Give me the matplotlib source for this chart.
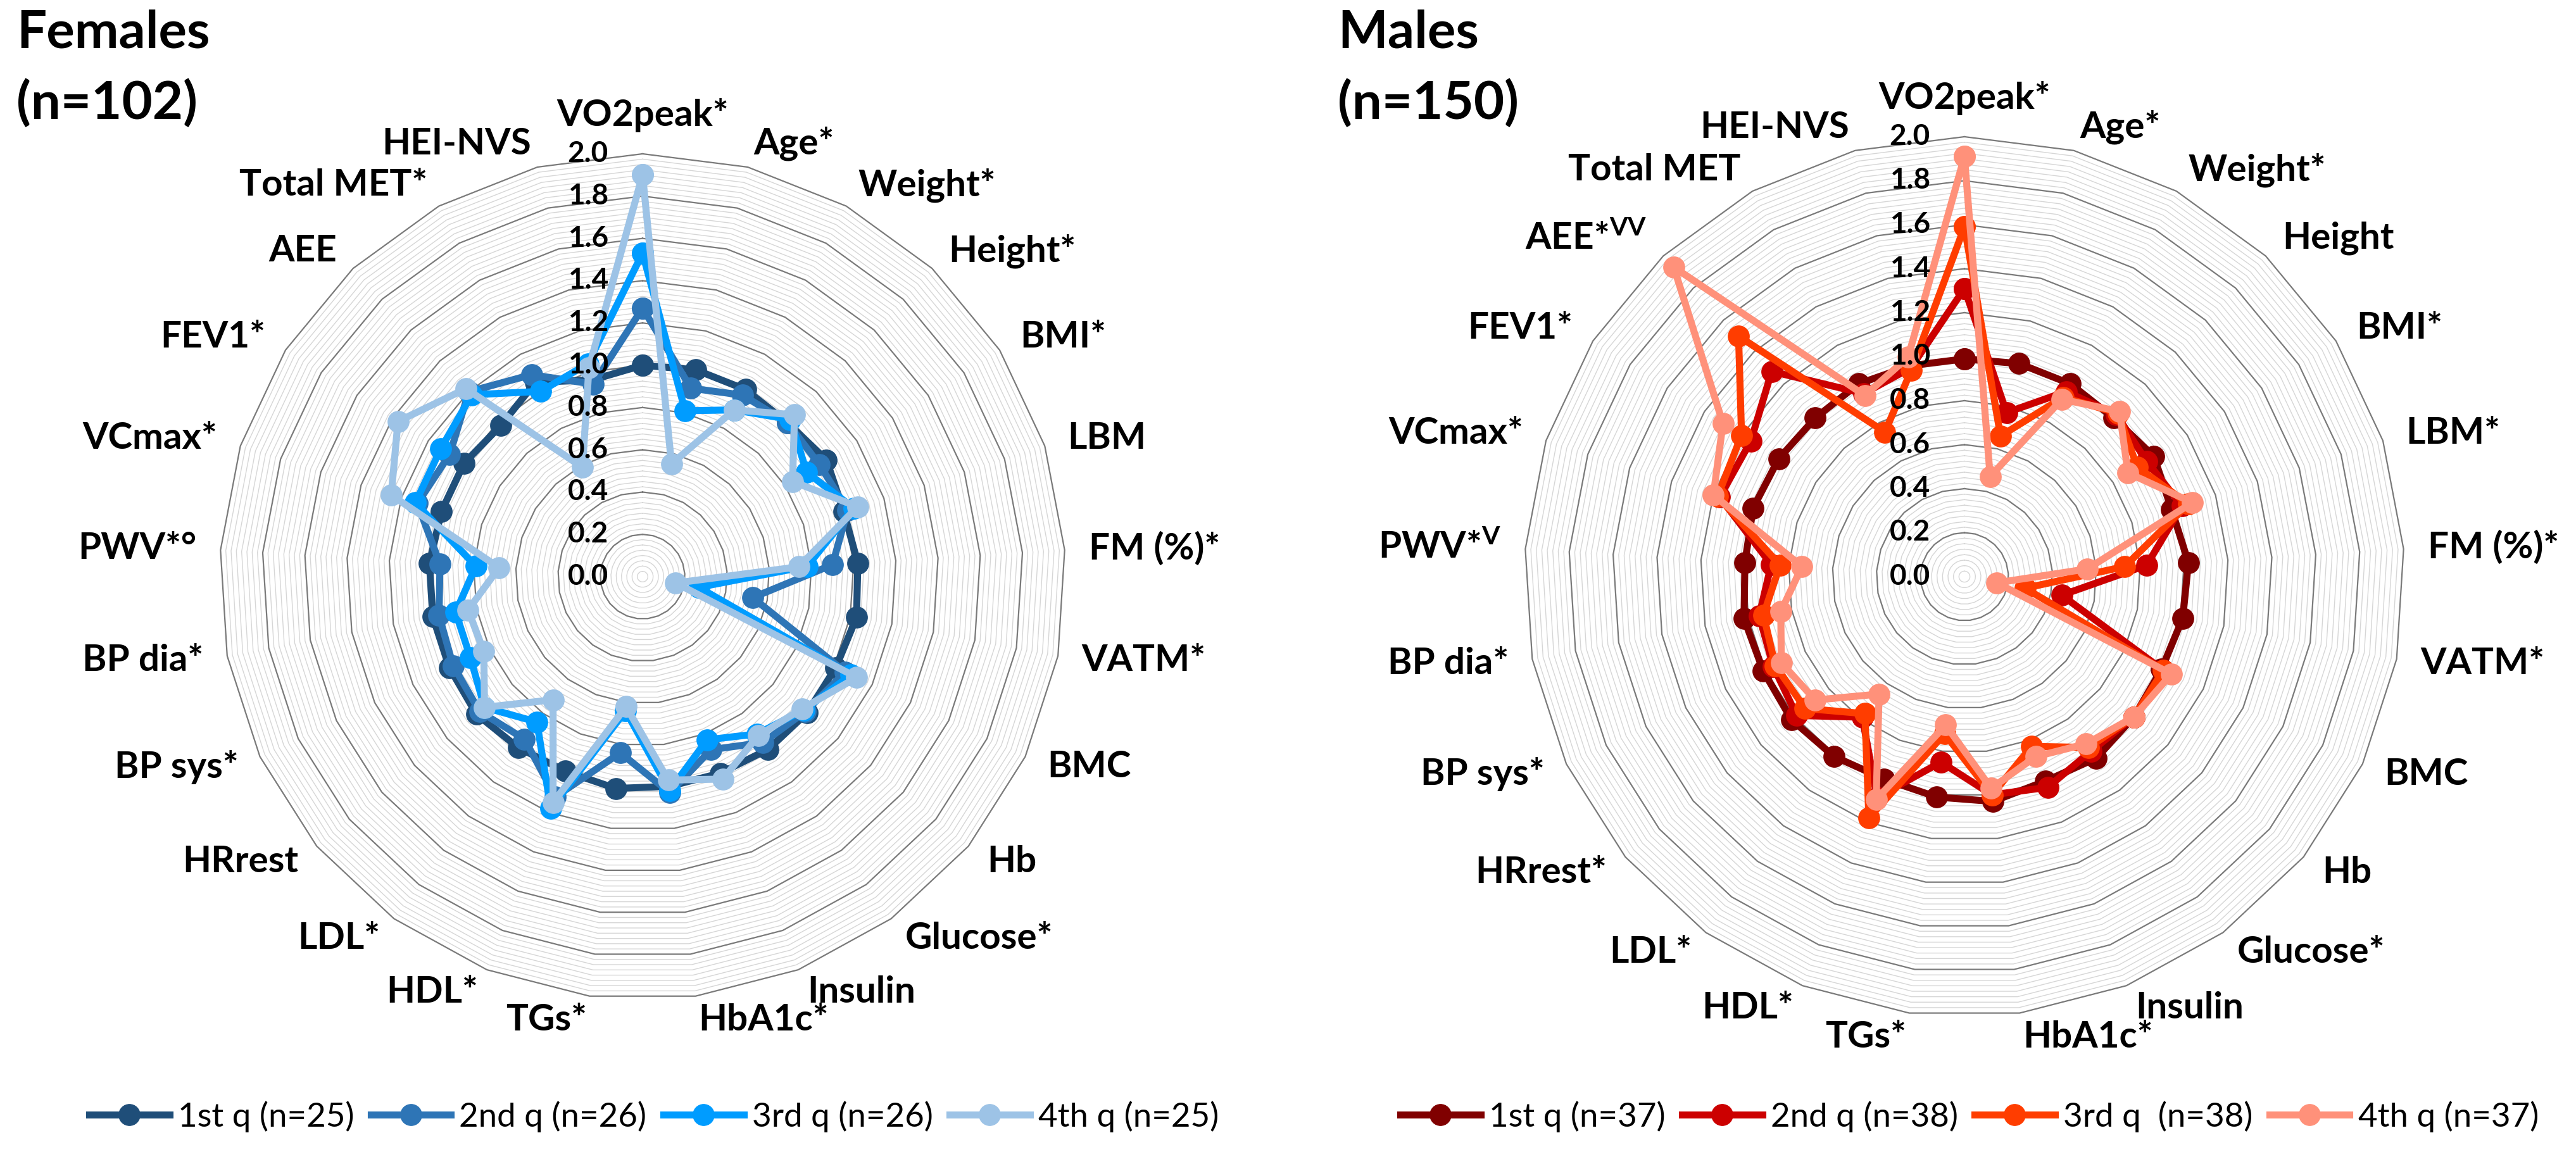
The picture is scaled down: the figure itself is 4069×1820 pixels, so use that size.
import numpy as np
import matplotlib
matplotlib.use("Agg")
import matplotlib.pyplot as plt
from matplotlib.transforms import offset_copy

plt.rcParams['font.family'] = ['Lato', 'DejaVu Sans']
plt.rcParams['mathtext.fontset'] = 'custom'
plt.rcParams['mathtext.rm'] = 'Lato'
plt.rcParams['mathtext.bf'] = 'Lato:bold'
plt.rcParams['mathtext.it'] = 'Lato:italic'

# ---------------- data ----------------
female_categories = ['VO2peak*', 'Age*', 'Weight*', 'Height*', 'BMI*', 'LBM', 'FM (%)*',
                     'VATM*', 'BMC', 'Hb', 'Glucose*', 'Insulin', 'HbA1c*', 'TGs*', 'HDL*',
                     'LDL*', 'HRrest', 'BP sys*', 'BP dia*', 'PWV*°', 'VCmax*', 'FEV1*',
                     'AEE', 'Total MET*', 'HEI-NVS']
male_categories = ['VO2peak*', 'Age*', 'Weight*', 'Height', 'BMI*', 'LBM*', 'FM (%)*',
                   'VATM*', 'BMC', 'Hb', 'Glucose*', 'Insulin', 'HbA1c*', 'TGs*', 'HDL*',
                   'LDL*', 'HRrest*', 'BP sys*', 'BP dia*', r'PWV*$^{\mathbf{V}}$', 'VCmax*',
                   'FEV1*', r'AEE*$^{\mathbf{VV}}$', 'Total MET', 'HEI-NVS']

female_q1 = [1.00, 1.01, 1.01, 1.00, 1.03, 1.00, 1.02, 1.03, 1.01, 1.01, 1.01, 1.00, 1.00,
             1.01, 0.99, 1.00, 1.02, 1.01, 1.01, 1.01, 1.00, 1.00, 0.98, 1.05, 0.96]
female_q2 = [1.27, 0.92, 0.98, 1.00, 0.99, 1.02, 0.90, 0.53, 1.06, 1.00, 0.97, 0.88, 1.03,
             0.84, 1.12, 0.95, 1.00, 0.99, 0.98, 0.96, 1.12, 1.08, 1.20, 1.09, 0.94]
female_q3 = [1.53, 0.81, 0.90, 1.02, 0.92, 1.05, 0.78, 0.27, 1.09, 0.99, 0.92, 0.83, 1.02,
             0.64, 1.18, 0.85, 0.97, 0.90, 0.90, 0.79, 1.13, 1.13, 1.18, 1.00, 1.04]
female_q4 = [1.90, 0.55, 0.90, 1.05, 0.84, 1.07, 0.74, 0.16, 1.12, 0.98, 0.93, 1.03, 0.97,
             0.62, 1.15, 0.72, 0.97, 0.83, 0.84, 0.68, 1.25, 1.37, 1.22, 0.59, 1.02]

male_q1 = [0.99, 1.00, 1.00, 0.99, 1.02, 0.99, 1.02, 1.01, 0.99, 1.00, 1.02, 1.00, 1.03,
           1.01, 0.99, 1.01, 1.02, 1.01, 1.02, 1.00, 1.01, 1.00, 0.99, 1.00, 0.99]
male_q2 = [1.31, 0.77, 0.96, 1.01, 0.98, 1.04, 0.83, 0.45, 1.00, 1.00, 0.98, 1.03, 1.00,
           0.85, 1.08, 0.79, 0.99, 0.96, 0.95, 0.88, 1.17, 1.15, 1.28, 0.95, 0.98]
male_q3 = [1.59, 0.66, 0.93, 1.02, 0.93, 1.07, 0.73, 0.28, 1.00, 1.00, 0.96, 0.83, 1.00,
           0.72, 1.18, 0.77, 0.94, 0.95, 0.93, 0.84, 1.18, 1.20, 1.50, 0.75, 0.97]
male_q4 = [1.91, 0.47, 0.92, 1.03, 0.88, 1.09, 0.56, 0.15, 1.04, 1.00, 0.94, 0.88, 0.97,
           0.68, 1.09, 0.66, 0.88, 0.92, 0.85, 0.74, 1.20, 1.30, 1.93, 0.94, 1.03]

female_legend = ['1st q (n=25)', '2nd q (n=26)', '3rd q (n=26)', '4th q (n=25)']
male_legend = ['1st q (n=37)', '2nd q (n=38)', '3rd q  (n=38)', '4th q (n=37)']
female_colors = ['#1F4E79', '#2E75B6', '#009CFF', '#9DC3E6']
male_colors = ['#800000', '#CC0000', '#FF3D00', '#FF917A']

tick_values = [0.0, 0.2, 0.4, 0.6, 0.8, 1.0, 1.2, 1.4, 1.6, 1.8, 2.0]
tick_labels = ['0.0', '0.2', '0.4', '0.6', '0.8', '1.0', '1.2', '1.4', '1.6', '1.8', '2.0']
r_max = 2.0
minor_step = 0.025

# ---------------- figure ----------------
FW, FH = 4069, 1820
fig = plt.figure(figsize=(FW / 100, FH / 100), dpi=100)


def radar(cx, cy, R, cats, series, colors, labels, title, subtitle, title_x, leg_cx):
    ax = fig.add_axes([(cx - R) / FW, (FH - cy - R) / FH, 2 * R / FW, 2 * R / FH],
                      projection='polar')
    ax.set_theta_zero_location('N')
    ax.set_theta_direction(-1)
    ax.set_ylim(0, r_max)
    ax.grid(False)
    ax.spines['polar'].set_visible(False)
    ax.set_xticks([])
    ax.set_yticks([])
    n = len(cats)
    theta = np.arange(n) * 2 * np.pi / n
    tc = np.append(theta, theta[0])

    # gridlines (polygons)
    nmin = int(round(r_max / minor_step))
    for k in range(1, nmin + 1):
        r = k * minor_step
        is_major = abs(r / 0.2 - round(r / 0.2)) < 1e-6
        if is_major:
            ax.plot(tc, [r] * (n + 1), color='#7A7A7A', lw=1.6, zorder=2, clip_on=False)
        else:
            ax.plot(tc, [r] * (n + 1), color='#D6D6D6', lw=1.0, zorder=1, clip_on=False)

    handles = []
    for vals, col, lab in zip(series, colors, labels):
        v = np.append(vals, vals[0])
        h, = ax.plot(tc, v, color=col, lw=8, marker='o', ms=24, zorder=3,
                     clip_on=False, label=lab)
        handles.append(h)

    # radial tick labels
    tr = offset_copy(ax.transData, fig=fig, x=-54, y=0, units='dots')
    for tv, tl in zip(tick_values, tick_labels):
        ax.text(0, tv, tl, transform=tr, ha='right', va='center', fontsize=33,
                fontweight='bold', color='black', zorder=5)

    # category labels
    pad = 38
    for th, lab in zip(theta, cats):
        s = np.sin(th)
        if abs(s) < 1e-6:
            rr = r_max * (R + 34) / R
            ax.text(th, rr, lab, ha='center', va='bottom', fontsize=42,
                    fontweight='bold', color='black')
        else:
            rr = r_max * (R + pad) / R
            ax.text(th, rr, lab, ha='left' if s > 0 else 'right', va='center',
                    fontsize=42, fontweight='bold', color='black')

    fig.text(title_x / FW, 1 - 52 / FH, title, ha='left', va='center', fontsize=60,
             fontweight='bold')
    fig.text(title_x / FW, 1 - 163 / FH, subtitle, ha='left', va='center', fontsize=60,
             fontweight='bold')

    fig.legend(handles=handles, labels=labels, loc='center',
               bbox_to_anchor=(leg_cx / FW, 1 - 1764 / FH), ncol=4, frameon=False,
               fontsize=38, handlelength=2.4, handletextpad=0.25, columnspacing=0.5,
               borderaxespad=0)


radar(1015, 911, 668, female_categories, [female_q1, female_q2, female_q3, female_q4],
      female_colors, female_legend, 'Females', '(n=102)', 26, 1033)
radar(3103, 911, 695, male_categories, [male_q1, male_q2, male_q3, male_q4],
      male_colors, male_legend, 'Males', '(n=150)', 2113, 3111)

fig.savefig('out.png', dpi=100, facecolor='white')
